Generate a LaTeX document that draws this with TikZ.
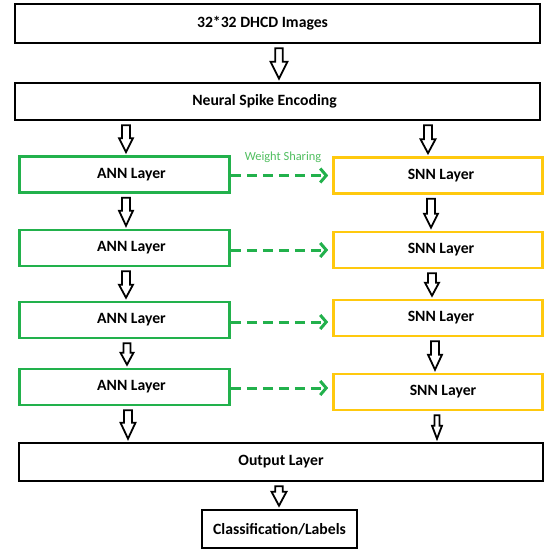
\documentclass[tikz,border=0pt]{standalone}
\usepackage{fontspec}
\setmainfont{Carlito}
\usetikzlibrary{arrows.meta,calc}
\definecolor{anngreen}{RGB}{34,177,76}
\definecolor{snnyellow}{RGB}{255,201,14}
\definecolor{wsgreen}{RGB}{80,190,95}
\tikzset{
  box/.style={draw=black, line width=2.6pt, fill=white, inner sep=0pt,
    font=\bfseries\fontsize{15.7}{17}\selectfont},
  annbox/.style={box, draw=anngreen, minimum width=210pt, minimum height=36pt},
  snnbox/.style={box, draw=snnyellow, minimum width=209pt, minimum height=36pt},
  hollowarrow/.style={draw=black, line width=1.8pt, fill=white, line join=miter},
  share/.style={draw=anngreen, line width=3pt, dash pattern=on 10pt off 6pt,
    -{Straight Barb[length=6pt,width=14pt]}, shorten >=4pt},
}
% #1 source, #2 target, #3 column node, #4 xshift, #5 shaft half width, #6 head half width, #7 head length
\newcommand\harrow[7]{%
  \draw[hollowarrow] let \p1=(#1.south), \p2=(#2.north), \p3=([xshift=#4]#3.center) in
    (\x3-#5,\y1-4pt) -- (\x3-#5,\y2+3pt+#7) -- (\x3-#6,\y2+3pt+#7) -- (\x3,\y2+3pt)
    -- (\x3+#6,\y2+3pt+#7) -- (\x3+#5,\y2+3pt+#7) -- (\x3+#5,\y1-4pt) -- cycle;}
\newcommand\annlabel{\hspace*{14pt}ANN Layer}
\newcommand\snnlabel{\hspace*{6pt}SNN Layer}
\begin{document}
\begin{tikzpicture}[x=1pt,y=-1pt]
\useasboundingbox (0,0) rectangle (544,552);
\node[box, minimum width=525pt, minimum height=39pt] (img) at (277.5,23.5) {32*32 DHCD Images\hspace*{30pt}};
\node[box, minimum width=525pt, minimum height=37pt] (enc) at (277.5,101.5) {Neural Spike Encoding\hspace*{26pt}};
\node[annbox] (a1) at (124.5,174.5) {\annlabel};
\node[snnbox] (s1) at (438,175.5) {\snnlabel};
\node[annbox] (a2) at (124.5,248) {\annlabel};
\node[snnbox] (s2) at (438,250) {\snnlabel};
\node[annbox] (a3) at (124.5,320) {\annlabel};
\node[snnbox] (s3) at (438,318) {\snnlabel};
\node[annbox] (a4) at (124.5,387) {\annlabel};
\node[snnbox] (s4) at (438,392) {\hspace*{10pt}SNN Layer};
\node[box, minimum width=524pt, minimum height=38pt] (out) at (281,462) {Output Layer};
\node[box, minimum width=155pt, minimum height=38pt] (cls) at (279.5,529) {Classification/Labels};
\node[font=\fontsize{12.4}{14}\selectfont, text=wsgreen] (ws) at (283,157) {Weight Sharing};
\draw[share] ([yshift=-1pt]a1.east) -- ([yshift=-1pt]a1.east -| s1.west);
\draw[share] ([yshift=-2pt]a2.east) -- ([yshift=-2pt]a2.east -| s2.west);
\draw[share] ([yshift=-2pt]a3.east) -- ([yshift=-2pt]a3.east -| s3.west);
\draw[share] ([yshift=-1pt]a4.east) -- ([yshift=-1pt]a4.east -| s4.west);
\harrow{img}{enc}{img}{1.5pt}{3.75pt}{8.5pt}{17pt}
\harrow{enc}{a1}{a1}{1.5pt}{4pt}{7pt}{14pt}
\harrow{enc}{s1}{s1}{-10pt}{4pt}{7.5pt}{14pt}
\harrow{a1}{a2}{a1}{1.5pt}{4pt}{7pt}{15pt}
\harrow{s1}{s2}{s1}{-7pt}{4pt}{7pt}{14pt}
\harrow{a2}{a3}{a1}{1.5pt}{4pt}{7pt}{13pt}
\harrow{s2}{s3}{s1}{-6pt}{4pt}{7pt}{13pt}
\harrow{a3}{a4}{a1}{2.5pt}{3.5pt}{6.5pt}{12pt}
\harrow{s3}{s4}{s1}{-3pt}{4pt}{7pt}{15pt}
\harrow{a4}{out}{a1}{3.5pt}{4pt}{7.5pt}{16pt}
\harrow{s4}{out}{s1}{-1pt}{2.5pt}{5pt}{13pt}
\harrow{out}{cls}{img}{1.5pt}{3.75pt}{7.5pt}{14pt}
\end{tikzpicture}
\end{document}
